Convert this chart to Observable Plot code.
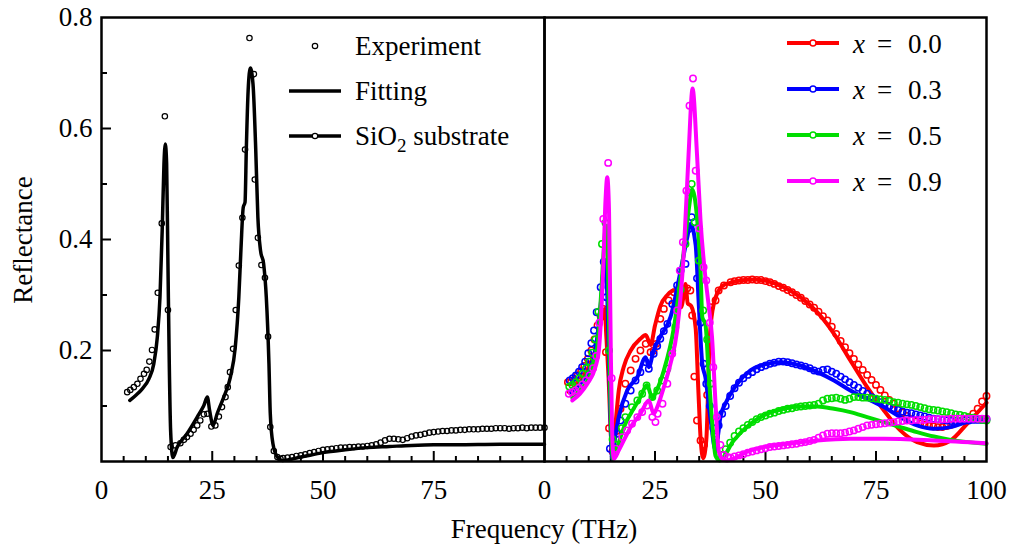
<!DOCTYPE html>
<html><head><meta charset="utf-8">
<script src="https://cdn.jsdelivr.net/npm/d3@7"></script>
<script src="https://cdn.jsdelivr.net/npm/@observablehq/plot@0.6"></script>
<style>
body{margin:0;background:#fff;}
#wrap{position:relative;width:1013px;height:548px;font-family:'Liberation Serif';font-size:27px;background:#fff;}
#left{position:absolute;left:0;top:0;}
#right{position:absolute;left:544px;top:0;}
#overlay{position:absolute;left:0;top:0;pointer-events:none;}
</style></head><body>
<div id="wrap"><div id="left"></div><div id="right"></div><svg id="overlay" width="1013" height="548"></svg></div>
<script>
// ---------- tick values ----------
const xTickLabelsLeft = [0, 25, 50, 75];
const xTickLabelsRight = [0, 25, 50, 75, 100];
const xMajorInner = [25, 50, 75];
const xMinor = [5, 10, 15, 20, 30, 35, 40, 45, 55, 60, 65, 70, 80, 85, 90, 95];
const yTickLabels = [0.2, 0.4, 0.6, 0.8];
const yMajorInner = [0.2, 0.4, 0.6];
const yMinor = [0.1, 0.3, 0.5, 0.7];

// ---------- left panel: [frequency THz, reflectance] ----------
const expLeft = [[5.8,0.125],[6.5,0.129],[7.3,0.134],[8.1,0.140],[8.8,0.149],[9.6,0.158],[10.2,0.165],[10.8,0.180],[11.4,0.201],[12.0,0.238],[12.7,0.304],[13.6,0.429],[14.3,0.622],[15.0,0.273],[15.6,0.026],[16.7,0.029],[17.8,0.033],[18.6,0.039],[19.3,0.044],[20.1,0.050],[20.8,0.057],[21.6,0.065],[22.3,0.074],[23.1,0.085],[23.9,0.086],[24.8,0.063],[25.7,0.065],[26.5,0.081],[27.2,0.098],[28.0,0.116],[28.5,0.134],[29.0,0.161],[29.7,0.203],[30.3,0.273],[31.0,0.353],[31.8,0.439],[32.4,0.562],[33.4,0.763],[34.4,0.698],[34.6,0.508],[35.3,0.403],[36.1,0.354],[36.9,0.331],[37.6,0.225],[38.1,0.062],[38.9,0.019],[39.7,0.008],[40.4,0.005],
[41,0.006],[42,0.007],[43,0.008],[44,0.010],[45,0.011],[46,0.013],[47,0.015],[48,0.017],[49,0.019],[50,0.021],[51,0.022],[52,0.023],[53,0.024],[54,0.025],[55,0.025],[56,0.026],[57,0.026],[58,0.027],[59,0.027],[60,0.028],[61,0.029],[62,0.031],[63,0.034],[64,0.038],[65,0.041],[66,0.041],[67,0.040],[68,0.039],[69,0.042],[70,0.045],[71,0.047],[72,0.048],[73,0.050],[74,0.052],[75,0.053],[76,0.054],[77,0.055],[78,0.055],[79,0.056],[80,0.056],[81,0.057],[82,0.057],[83,0.058],[84,0.058],[85,0.058],[86,0.059],[87,0.059],[88,0.059],[89,0.060],[90,0.060],[91,0.060],[92,0.059],[93,0.060],[94,0.060],[95,0.061],[96,0.060],[97,0.061],[98,0.061],[99,0.061],[100,0.061]];
const fitLeft = [[6.4,0.110],[7.7,0.119],[9.2,0.131],[10.7,0.149],[11.8,0.176],[12.6,0.224],[13.2,0.296],[13.7,0.416],[14.1,0.536],[14.4,0.572],[14.7,0.537],[15.0,0.356],[15.3,0.176],[15.6,0.056],[16.1,0.007],[17.1,0.026],[19.3,0.050],[21.6,0.080],[23.1,0.101],[23.9,0.116],[24.4,0.092],[25.2,0.065],[26.1,0.086],[27.6,0.116],[29.1,0.152],[30.2,0.206],[31.0,0.296],[31.5,0.386],[32.0,0.458],[32.4,0.467],[32.7,0.566],[33.1,0.668],[33.6,0.709],[34.2,0.680],[34.8,0.566],[35.3,0.440],[35.9,0.380],[36.6,0.356],[37.2,0.296],[37.8,0.176],[38.1,0.086],[38.7,0.032],[39.7,0.008],[40.8,0.002],[45,0.008],[50,0.016],[55,0.021],[60,0.025],[65,0.027],[70,0.029],[75,0.030],[80,0.030],[90,0.031],[100,0.031]];

// ---------- right panel ----------
const expX00 = [[5.3,0.143],[6.0,0.143],[6.8,0.148],[7.5,0.155],[8.3,0.163],[9.0,0.172],[9.8,0.185],[10.6,0.200],[11.3,0.220],[12.0,0.245],[12.7,0.262],[13.3,0.275],[13.9,0.197],[14.6,0.060],[15.4,0.018],[16.3,0.055],[17.2,0.095],[18.3,0.140],[19.5,0.164],[20.6,0.185],[21.7,0.200],[22.9,0.212],[24.0,0.197],[24.7,0.200],[25.3,0.212],[26.2,0.257],[27.0,0.275],[28.1,0.290],[29.3,0.305],[30.4,0.310],[31.5,0.310],[32.3,0.312],[33.0,0.308],[33.4,0.263],[33.9,0.153],[34.5,0.074],[35.3,0.038],[36.1,0.030],[36.8,0.120],[37.6,0.278],[38.7,0.290],[39.4,0.308],[40.6,0.317],[42.1,0.323],
[43,0.325],[44,0.326],[45,0.327],[46,0.327],[47,0.328],[48,0.327],[49,0.327],[50,0.325],[51,0.323],[52,0.320],[53,0.316],[54,0.313],[55,0.309],[56,0.305],[57,0.300],[58,0.295],[59,0.289],[60,0.283],[61,0.277],[62,0.270],[63,0.262],[64,0.254],[65,0.243],[66,0.230],[67,0.217],[68,0.206],[69,0.195],[70,0.185],[71,0.175],[72,0.165],[73,0.156],[74,0.147],[75,0.138],[76,0.129],[77,0.119],[78,0.111],[79,0.104],[80,0.096],[81,0.088],[82,0.082],[83,0.076],[84,0.072],[85,0.068],[86,0.066],[87,0.064],[88,0.063],[89,0.062],[90,0.062],[91,0.064],[92,0.066],[93,0.069],[94,0.072],[95,0.075],[96,0.080],[97,0.086],[98,0.095],[99,0.108],[100,0.118]];
const fitX00 = [[5.5,0.125],[7,0.135],[8.5,0.148],[10,0.168],[11.5,0.200],[12.5,0.240],[13.2,0.268],[13.6,0.275],[14.0,0.224],[14.5,0.150],[15.0,0.050],[15.4,0.005],[16.1,0.070],[16.8,0.128],[17.9,0.170],[19.5,0.200],[21.7,0.221],[22.9,0.228],[24.0,0.210],[25.0,0.245],[26.2,0.280],[27.8,0.300],[29.3,0.308],[30.3,0.305],[30.9,0.278],[31.5,0.300],[31.9,0.320],[32.4,0.285],[33.2,0.280],[34.2,0.240],[34.8,0.130],[35.3,0.044],[35.9,0.006],[36.6,0.038],[37.4,0.224],[38.3,0.284],[40.2,0.316],[42,0.322],[44.3,0.326],[47.4,0.328],[50.4,0.325],[54.1,0.314],[57.9,0.296],[61.7,0.269],[65.5,0.230],[69.2,0.182],[73.0,0.134],[76.8,0.092],[80.5,0.056],[84.3,0.035],[88.1,0.029],[91.9,0.038],[95.6,0.068],[100,0.106]];

const expX03 = [[5.7,0.146],[6.4,0.150],[7.1,0.155],[7.8,0.162],[8.5,0.170],[9.2,0.180],[9.9,0.195],[10.6,0.213],[11.2,0.236],[11.8,0.269],[12.7,0.314],[13.4,0.360],[14.0,0.296],[14.8,0.023],[15.7,0.026],[16.4,0.050],[17.2,0.074],[18.3,0.104],[19.5,0.128],[20.6,0.146],[21.7,0.161],[22.9,0.179],[23.6,0.167],[24.7,0.194],[25.5,0.208],[26.2,0.221],[27.0,0.235],[27.8,0.248],[28.9,0.284],[30.0,0.317],[30.8,0.344],[31.9,0.356],[32.6,0.419],[33.3,0.440],[33.9,0.431],[34.5,0.330],[35.3,0.250],[36.0,0.176],[36.6,0.140],[37.4,0.100],[38.2,0.060],[38.8,0.045],[39.4,0.065],[40.2,0.086],[41,0.100],[42,0.118],
[43,0.132],[44,0.142],[45,0.150],[46,0.156],[47,0.161],[48,0.166],[49,0.170],[50,0.173],[51,0.176],[52,0.178],[53,0.180],[54,0.180],[55,0.179],[56,0.177],[57,0.175],[58,0.173],[59,0.171],[60,0.168],[61,0.164],[62,0.162],[63,0.165],[64,0.166],[65,0.162],[66,0.158],[67,0.153],[68,0.148],[69,0.143],[70,0.138],[71,0.133],[72,0.127],[73,0.122],[74,0.116],[75,0.111],[76,0.107],[77,0.103],[78,0.099],[79,0.096],[80,0.093],[81,0.090],[82,0.088],[83,0.087],[84,0.085],[85,0.083],[86,0.081],[87,0.079],[88,0.077],[89,0.076],[90,0.075],[91,0.074],[92,0.073],[93,0.073],[94,0.073],[95,0.074],[96,0.074],[97,0.075],[98,0.075],[99,0.075],[100,0.076]];
const fitX03 = [[6.0,0.125],[7.5,0.135],[9,0.150],[10.5,0.172],[11.8,0.215],[12.8,0.290],[13.6,0.362],[14.2,0.300],[14.7,0.150],[15.3,0.005],[16.0,0.045],[16.8,0.080],[18.7,0.128],[21.0,0.152],[22.9,0.188],[23.6,0.170],[24.7,0.200],[26.2,0.225],[28.5,0.260],[30.8,0.344],[32.3,0.404],[33.0,0.428],[34.2,0.390],[34.9,0.284],[35.7,0.176],[36.4,0.152],[37.6,0.074],[38.7,0.020],[39.4,0.056],[39.8,0.080],[41.3,0.110],[43.6,0.140],[46.6,0.164],[50.4,0.176],[53.4,0.179],[57.9,0.173],[61.7,0.161],[65.5,0.146],[69.2,0.128],[73.0,0.113],[76.8,0.098],[80.5,0.080],[84.3,0.065],[88.1,0.059],[91.9,0.062],[95.6,0.071],[100,0.077]];

const expX05 = [[5.6,0.135],[6.3,0.138],[7.1,0.143],[7.9,0.150],[8.6,0.158],[9.4,0.168],[10.1,0.180],[10.8,0.196],[11.5,0.220],[12.2,0.270],[13.0,0.392],[13.8,0.430],[14.6,0.200],[15.4,0.040],[16.3,0.030],[17.5,0.060],[18.3,0.080],[19.8,0.098],[21.0,0.110],[22.1,0.122],[23.1,0.137],[24.4,0.116],[25.5,0.128],[26.6,0.146],[27.8,0.167],[28.9,0.200],[29.6,0.242],[30.8,0.310],[31.9,0.392],[32.6,0.485],[33.3,0.500],[34.0,0.431],[34.9,0.362],[35.9,0.272],[36.8,0.220],[37.6,0.140],[38.5,0.050],[39.3,0.012],[40,0.012],[41,0.022],[42,0.034],[43,0.046],
[44,0.054],[45,0.060],[46,0.066],[47,0.071],[48,0.076],[49,0.080],[50,0.083],[51,0.086],[52,0.088],[53,0.091],[54,0.093],[55,0.095],[56,0.096],[57,0.098],[58,0.099],[59,0.100],[60,0.101],[61,0.102],[62,0.104],[63,0.110],[64,0.113],[65,0.114],[66,0.115],[67,0.113],[68,0.111],[69,0.113],[70,0.116],[71,0.116],[72,0.115],[73,0.115],[74,0.114],[75,0.113],[76,0.112],[77,0.111],[78,0.109],[79,0.107],[80,0.106],[81,0.104],[82,0.103],[83,0.102],[84,0.100],[85,0.098],[86,0.096],[87,0.094],[88,0.093],[89,0.092],[90,0.090],[91,0.089],[92,0.087],[93,0.085],[94,0.084],[95,0.082],[96,0.080],[97,0.079],[98,0.077],[99,0.075],[100,0.074]];
const fitX05 = [[6.3,0.115],[8,0.128],[9.7,0.145],[11,0.170],[12,0.210],[12.8,0.300],[13.4,0.380],[13.9,0.425],[14.3,0.380],[14.8,0.150],[15.5,0.005],[16.3,0.020],[17.2,0.044],[18.7,0.075],[19.5,0.086],[21.7,0.116],[23.2,0.138],[24.4,0.114],[25.2,0.125],[27.0,0.164],[29.3,0.242],[31.1,0.350],[32.6,0.452],[33.4,0.490],[34.5,0.440],[35.3,0.344],[35.7,0.260],[36.4,0.248],[37.1,0.164],[37.9,0.074],[38.7,0.010],[39.6,0.002],[42.8,0.038],[46.6,0.068],[50.4,0.086],[54.1,0.095],[57.9,0.099],[61.7,0.099],[65.5,0.095],[69.2,0.089],[73.0,0.080],[76.8,0.071],[80.5,0.062],[84.3,0.053],[88.1,0.045],[91.9,0.039],[100,0.032]];

const expX09 = [[5.5,0.122],[6.2,0.125],[7.0,0.128],[7.8,0.133],[8.6,0.139],[9.4,0.146],[10.2,0.155],[11.0,0.168],[11.7,0.190],[12.4,0.250],[13.3,0.437],[14.4,0.538],[15.2,0.150],[16.1,0.023],[17.6,0.044],[18.7,0.056],[19.8,0.068],[21.0,0.080],[22.1,0.089],[23.2,0.101],[24.4,0.080],[25.1,0.071],[25.6,0.086],[26.7,0.104],[27.8,0.140],[28.9,0.194],[30.0,0.272],[30.6,0.344],[31.3,0.395],[32.1,0.488],[32.8,0.641],[33.6,0.690],[34.2,0.524],[35.0,0.420],[36.0,0.350],[36.6,0.326],[37.4,0.250],[38.2,0.170],[39.0,0.080],[39.8,0.030],[40.6,0.012],[41.4,0.008],[42.1,0.007],
[43,0.009],[44,0.011],[45,0.013],[46,0.016],[47,0.018],[48,0.020],[49,0.022],[50,0.024],[51,0.026],[52,0.027],[53,0.028],[54,0.029],[55,0.030],[56,0.031],[57,0.032],[58,0.034],[59,0.035],[60,0.037],[61,0.039],[62,0.043],[63,0.047],[64,0.050],[65,0.051],[66,0.051],[67,0.051],[68,0.052],[69,0.054],[70,0.056],[71,0.059],[72,0.062],[73,0.065],[74,0.066],[75,0.067],[76,0.068],[77,0.069],[78,0.070],[79,0.071],[80,0.072],[81,0.073],[82,0.074],[83,0.074],[84,0.075],[85,0.075],[86,0.075],[87,0.076],[88,0.076],[89,0.076],[90,0.076],[91,0.076],[92,0.077],[93,0.077],[94,0.077],[95,0.077],[96,0.077],[97,0.077],[98,0.077],[99,0.077],[100,0.077]];
const fitX09 = [[6.3,0.110],[8,0.122],[9.7,0.140],[11.5,0.170],[12.3,0.200],[12.8,0.260],[13.3,0.350],[13.8,0.470],[14.2,0.512],[14.6,0.450],[15.0,0.200],[15.4,0.030],[15.7,0.005],[16.8,0.020],[18.7,0.050],[19.5,0.062],[21.7,0.086],[23.6,0.110],[24.7,0.086],[25.5,0.098],[27.0,0.134],[28.5,0.176],[30.0,0.236],[31.5,0.374],[32.6,0.554],[33.5,0.672],[34.5,0.554],[35.3,0.434],[36.4,0.332],[37.1,0.284],[37.9,0.224],[38.7,0.104],[39.4,0.020],[40.2,0.005],[41.3,0.002],[46.6,0.020],[54.1,0.031],[61.7,0.038],[69.2,0.041],[76.8,0.041],[88.1,0.038],[100,0.033]];

const seriesNames = ["x = 0.0", "x = 0.3", "x = 0.5", "x = 0.9"];
const seriesColors = ["#ff0000", "#0000ff", "#00dd00", "#ff00ff"];
const seriesExp = [expX00, expX03, expX05, expX09];
const seriesFit = [fitX00, fitX03, fitX05, fitX09];
const legendLeftLabels = ["Experiment", "Fitting", "SiO2 substrate"];

// ---------- build ----------
const rows = (pairs) => pairs.map(([f, r]) => ({f, r}));
const W_L = 544, W_R = 469, H = 506;
const MT = 17, MB = 45, ML = 101, MR = 27;
const plotH = H - MT - MB;           // 444
const plotWL = W_L - ML;             // 443
const plotWR = W_R - MR;             // 442
const font = "Liberation Serif";
const FS = "27px";                   // Liberation Serif renders true to face up to 27px here
const styleObj = {fontFamily: font, fontSize: FS, background: "transparent", overflow: "visible"};

function tickMarks(plotW, withY) {
  const m = [
    Plot.tickX(xMinor, {x: d => d, insetTop: plotH - 5, strokeWidth: 2}),
    Plot.tickX(xMajorInner, {x: d => d, insetTop: plotH - 10, strokeWidth: 2})
  ];
  if (withY) {
    m.push(Plot.tickY(yMinor, {y: d => d, insetRight: plotW - 6, strokeWidth: 2}));
    m.push(Plot.tickY(yMajorInner, {y: d => d, insetRight: plotW - 10, strokeWidth: 2}));
  }
  return m;
}

const left = Plot.plot({
  width: W_L, height: H, marginLeft: ML, marginRight: 0, marginTop: MT, marginBottom: MB,
  style: styleObj,
  x: {domain: [0, 100]},
  y: {domain: [0, 0.8]},
  marks: [
    Plot.axisX({ticks: xTickLabelsLeft, tickSize: 0, tickPadding: 18, tickFormat: d => String(d), label: null}),
    Plot.axisY({ticks: yTickLabels, tickSize: 0, tickPadding: 9, tickFormat: d => d.toFixed(1), label: null}),
    ...tickMarks(plotWL, true),
    Plot.line(rows(fitLeft), {x: "f", y: "r", stroke: "black", strokeWidth: 3.5, curve: "monotone-x"}),
    Plot.dot(rows(expLeft), {x: "f", y: "r", r: 2.7, stroke: "black", strokeWidth: 1.2, fill: "none"}),
    Plot.frame({stroke: "black", strokeWidth: 2.5})
  ]
});
document.getElementById("left").appendChild(left);

const rightMarks = [
  Plot.axisX({ticks: xTickLabelsRight, tickSize: 0, tickPadding: 18, tickFormat: d => String(d), label: null}),
  ...tickMarks(plotWR, false)
];
seriesNames.forEach((name, i) => {
  rightMarks.push(Plot.dot(rows(seriesExp[i]), {x: "f", y: "r", r: 3.2, stroke: seriesColors[i], strokeWidth: 1.5, fill: "none"}));
  rightMarks.push(Plot.line(rows(seriesFit[i]), {x: "f", y: "r", stroke: seriesColors[i], strokeWidth: 4, curve: "monotone-x"}));
});
rightMarks.push(Plot.frame({stroke: "black", strokeWidth: 2.5}));

const right = Plot.plot({
  width: W_R, height: H, marginLeft: 0, marginRight: MR, marginTop: MT, marginBottom: MB,
  style: styleObj,
  x: {domain: [0, 100]},
  y: {domain: [0, 0.8], axis: null},
  marks: rightMarks
});
document.getElementById("right").appendChild(right);

// ---------- overlay: axis titles and legends ----------
const ov = d3.select("#overlay");
ov.append("text").attr("x", 544).attr("y", 538).attr("text-anchor", "middle").text("Frequency (THz)");
ov.append("text").attr("transform", "translate(32,240) rotate(-90)").attr("text-anchor", "middle").text("Reflectance");

// left legend
const lg = ov.append("g");
lg.append("circle").attr("cx", 315).attr("cy", 46).attr("r", 2.7).attr("fill", "none").attr("stroke", "black").attr("stroke-width", 1.2);
lg.append("text").attr("x", 355).attr("y", 55).text(legendLeftLabels[0]);
lg.append("line").attr("x1", 289).attr("x2", 341).attr("y1", 91).attr("y2", 91).attr("stroke", "black").attr("stroke-width", 3.5);
lg.append("text").attr("x", 355).attr("y", 100).text(legendLeftLabels[1]);
lg.append("line").attr("x1", 289).attr("x2", 341).attr("y1", 136).attr("y2", 136).attr("stroke", "black").attr("stroke-width", 3.5);
lg.append("circle").attr("cx", 315).attr("cy", 136).attr("r", 2.7).attr("fill", "white").attr("stroke", "black").attr("stroke-width", 1.2);
const sio = lg.append("text").attr("x", 355).attr("y", 145);
sio.append("tspan").text("SiO");
sio.append("tspan").attr("dy", 7).attr("data-sub", "1").text("2");
sio.append("tspan").attr("dy", -7).text(" substrate");

// right legend
const rowsY = [43, 89, 135, 181];
seriesNames.forEach((name, i) => {
  const g = ov.append("g");
  const y = rowsY[i];
  g.append("line").attr("x1", 787).attr("x2", 839).attr("y1", y).attr("y2", y).attr("stroke", seriesColors[i]).attr("stroke-width", 4);
  g.append("circle").attr("cx", 813).attr("cy", y).attr("r", 3).attr("fill", "white").attr("stroke", seriesColors[i]).attr("stroke-width", 1.5);
  const parts = name.split(" ");
  const t = g.append("text").attr("y", y + 10);
  t.append("tspan").attr("x", 853).attr("data-it", "1").text(parts[0]);
  t.append("tspan").attr("x", 877).text(parts[1]);
  t.append("tspan").attr("x", 908).text(parts[2]);
});

// inline serif face on every text
d3.selectAll("#wrap text").style("font-family", "Liberation Serif").style("font-size", FS);
d3.selectAll("#wrap tspan[data-sub]").style("font-size", "19px");
d3.selectAll("#wrap tspan[data-it]").style("font-style", "italic");
</script>
</body></html>
